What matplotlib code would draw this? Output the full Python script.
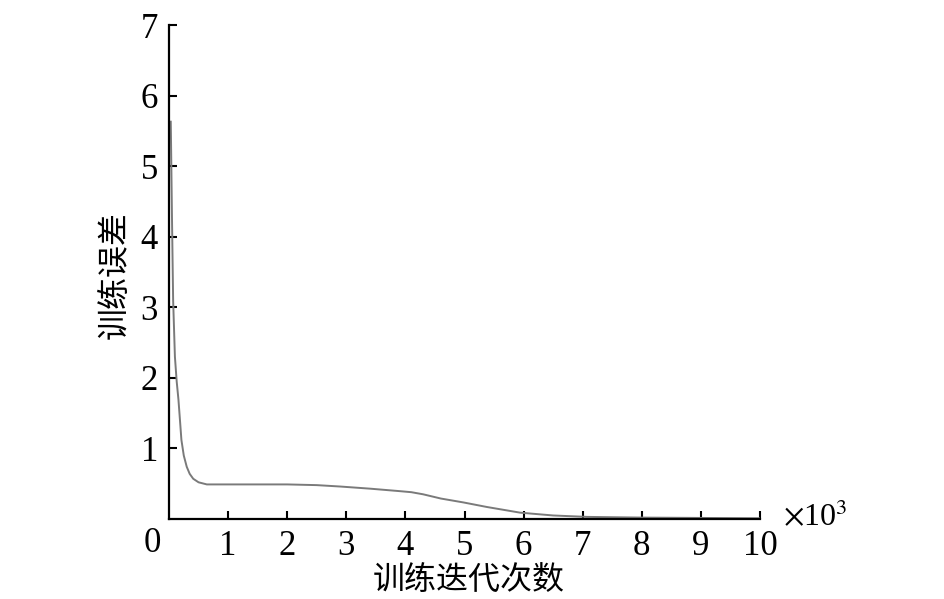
import matplotlib
matplotlib.use("Agg")
import matplotlib.pyplot as plt
import numpy as np

# training error vs iterations (x in units of 10^3)
iters = [0.03, 0.05, 0.07, 0.10, 0.13, 0.16, 0.19, 0.21, 0.25, 0.30, 0.35, 0.41,
         0.50, 0.64, 1.0, 1.5, 2.0, 2.5, 2.9, 3.4, 3.9, 4.1, 4.3, 4.6, 4.98, 5.38,
         5.94, 6.5, 7.07, 8.0, 9.0, 10.0]
err = [5.63, 4.3, 3.1, 2.3, 1.95, 1.69, 1.35, 1.12, 0.9, 0.74, 0.64, 0.57,
       0.52, 0.49, 0.49, 0.49, 0.49, 0.48, 0.46, 0.43, 0.395, 0.38, 0.35, 0.29, 0.235, 0.17,
       0.09, 0.05, 0.03, 0.02, 0.015, 0.01]
xticks = [1, 2, 3, 4, 5, 6, 7, 8, 9, 10]
yticks = [1, 2, 3, 4, 5, 6, 7]

serif = ['Liberation Serif', 'DejaVu Serif']
cjk = ['Noto Sans CJK SC', 'DejaVu Sans']

fig = plt.figure(figsize=(9.45, 5.99), dpi=100)
ax = fig.add_axes([169/945, 1-519/599, 591/945, 494/599])

ax.plot(iters, err, color='#7a7a7a', lw=1.4)
ax.set_xlim(0, 10)
ax.set_ylim(0, 7)
ax.set_xticks(xticks)
ax.set_yticks(yticks)
ax.set_xticklabels([str(t) for t in xticks], family=serif, fontsize=25)
ax.set_yticklabels([str(t) for t in yticks], family=serif, fontsize=25)
ax.tick_params(direction='in', length=6, width=1.5, pad=8)
for s in ['top', 'right']:
    ax.spines[s].set_visible(False)
for s in ['left', 'bottom']:
    ax.spines[s].set_linewidth(1.6)

fig.text(152/945, 1-543/599, '0', family=serif, fontsize=25, ha='center', va='center')
fig.text(783/945, 1-518/599, r'$\times$10$^3$', family=serif, fontsize=23,
         ha='left', va='center', math_fontfamily='stix')
fig.text(469/945, 1-580/599, '训练迭代次数', family=cjk, fontsize=23,
         ha='center', va='center')
fig.text(115/945, 1-275/599, '训练误差', family=cjk, fontsize=23,
         ha='center', va='center', rotation=90)

fig.savefig('out.png', dpi=100)
